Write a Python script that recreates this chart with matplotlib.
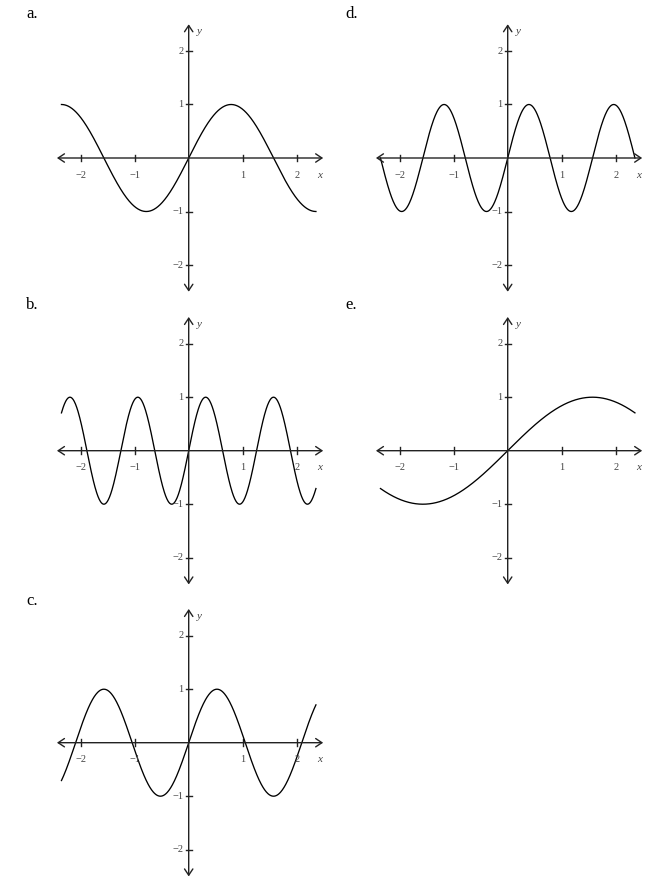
import numpy as np
import matplotlib
matplotlib.use("Agg")
import matplotlib.pyplot as plt

# panel letters and the frequency k of y = sin(k x)
panel_labels = ["a.", "b.", "c.", "d.", "e."]
freqs = [2, 5, 3, 4, 1]
x_ticks = [-2, -1, 1, 2]
y_ticks = [-2, -1, 1, 2]
tick_text = {-2: "\u22122", -1: "\u22121", 1: "1", 2: "2"}
x_start, x_end = -3 * np.pi / 4, 3 * np.pi / 4

# layout in pixels (origin of each panel, measured from top-left)
W, H = 653, 893
origins = [(188.7, 158), (188.7, 450.7), (188.7, 742.7), (507.7, 158), (507.7, 450.7)]
label_pos = [(26, 14), (26, 305), (26, 601), (345, 14), (345, 305)]
ux, uy = 54.0, 53.5
half = 2.7

plt.rcParams['font.family'] = ['Liberation Serif', 'DejaVu Serif']

fig = plt.figure(figsize=(W / 100, H / 100), dpi=100)

for lab, k, (ox, oy), (lx, ly) in zip(panel_labels, freqs, origins, label_pos):
    left = (ox - half * ux) / W
    bottom = (H - (oy + half * uy)) / H
    ax = fig.add_axes([left, bottom, 2 * half * ux / W, 2 * half * uy / H])
    ax.set_xlim(-half, half)
    ax.set_ylim(-half, half)
    ax.axis('off')

    arrow = dict(arrowstyle='<->,head_length=0.45,head_width=0.3', lw=1.0,
                 color='#222222', shrinkA=0, shrinkB=0, mutation_scale=10)
    ax.annotate('', xy=(2.49, 0), xytext=(-2.44, 0), arrowprops=arrow)
    ax.annotate('', xy=(0, 2.5), xytext=(0, -2.5), arrowprops=arrow)

    for t in x_ticks:
        ax.plot([t, t], [-0.065, 0.065], color='#222222', lw=1.0)
        ax.text(t, -0.32, tick_text[t], ha='center', va='center',
                fontsize=7.5, color='#444444')
    for t in y_ticks:
        ax.plot([-0.055, 0.055], [t, t], color='#222222', lw=1.0)
        ax.text(-0.1, t, tick_text[t], ha='right', va='center',
                fontsize=7.5, color='#444444')
    ax.text(2.43, -0.32, 'x', ha='center', va='center', fontsize=8,
            style='italic', color='#444444')
    ax.text(0.19, 2.36, 'y', ha='center', va='center', fontsize=8,
            style='italic', color='#444444')

    xs = np.linspace(x_start, x_end, 600)
    ax.plot(xs, np.sin(k * xs), color='black', lw=0.95)

    fig.text(lx / W, 1 - ly / H, lab, ha='left', va='center', fontsize=12)

fig.savefig('out.png', dpi=100)
